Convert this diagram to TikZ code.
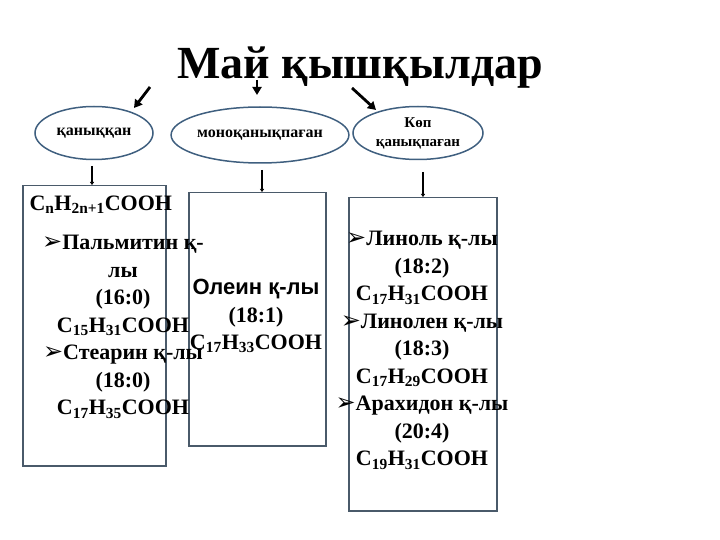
\documentclass[tikz,border=0pt]{standalone}
\usepackage{fontspec}
\setmainfont{Liberation Serif}
\newfontfamily\arialfnt{Liberation Sans}
\newfontfamily\djfnt{DejaVu Sans}
\usetikzlibrary{shapes.geometric,arrows.meta}
\newcommand\sbs[1]{\textsubscript{#1}}
\newcommand\bul{{\djfnt\fontsize{24}{24}\selectfont ➢}}
\begin{document}
\begin{tikzpicture}[x=1pt,y=-1pt,
  ell/.style={draw=ecol,line width=1.5pt,ellipse,inner sep=0},
  bx/.style={draw=bcol,line width=1.5pt,anchor=north west,inner sep=0},
  big/.style={-{Triangle[length=8pt,width=9pt]},line width=2.8pt},
  sm/.style={-{Triangle[length=3pt,width=4pt]},line width=2pt},
  tx/.style={align=center,font=\bfseries\fontsize{22}{27.5}\selectfont}]
\definecolor{ecol}{HTML}{3F5F7F}
\definecolor{bcol}{HTML}{4A5A6A}
\useasboundingbox (0,0) rectangle (720,540);
\node[font=\bfseries\fontsize{46}{50}\selectfont] (t) at (360,68) {Май қышқылдар};
\node[ell,minimum width=118,minimum height=53,font=\bfseries\fontsize{16}{18}\selectfont] (e1) at (94,133) {қаныққан};
\node[ell,minimum width=160,minimum height=56,font=\bfseries\fontsize{16}{18}\selectfont] (e2) at (260,135) {моноқанықпаған};
\node[ell,minimum width=130,minimum height=53,font=\bfseries\fontsize{15}{19}\selectfont,align=center] (e3) at (418,133) {Көп\\қанықпаған};
\coordinate (a1s) at (150,87); \coordinate (a1e) at (134,108);
\coordinate (a2s) at (257,80); \coordinate (a2e) at (257,95);
\coordinate (a3s) at (352,88); \coordinate (a3e) at (376,110);
\draw[big] (a1s) -- (a1e);
\draw[big] (a2s) -- (a2e);
\draw[big] (a3s) -- (a3e);
\node[bx,minimum width=143,minimum height=280] (b1) at (22,185) {};
\node[bx,minimum width=137,minimum height=253] (b2) at (188,192) {};
\node[bx,minimum width=148,minimum height=313] (b3) at (348,197) {};
\draw[sm] (92,166) -- (b1.north -| 92,0);
\draw[sm] (262,170) -- (b2.north -| 262,0);
\draw[sm] (423,172) -- (b3.north -| 423,0);
\node[tx,anchor=west] (f1) at (26,205) {C\sbs{n}H\sbs{2n+1}COOH};
\node[tx,anchor=north] (l1) at (123,232) {\bul Пальмитин қ-\\лы\\(16:0)\\C\sbs{15}H\sbs{31}COOH\\\bul Стеарин қ-лы\\(18:0)\\C\sbs{17}H\sbs{35}COOH};
\node[tx,anchor=center,xshift=0pt] (l2) at (256,316) {{\arialfnt Олеин қ-лы}\\(18:1)\\C\sbs{17}H\sbs{33}COOH};
\node[tx,anchor=north] (l3) at (422,228) {\bul Линоль қ-лы\\(18:2)\\C\sbs{17}H\sbs{31}COOH\\\bul Линолен қ-лы\\(18:3)\\C\sbs{17}H\sbs{29}COOH\\\bul Арахидон қ-лы\\(20:4)\\C\sbs{19}H\sbs{31}COOH};
\end{tikzpicture}
\end{document}
